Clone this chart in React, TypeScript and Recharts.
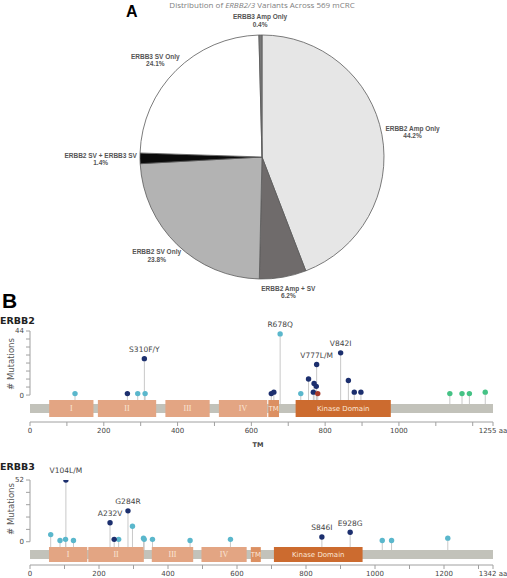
import React from "react";
import {
  PieChart,
  Pie,
  Cell,
  ComposedChart,
  XAxis,
  YAxis,
  Scatter,
  ReferenceArea,
  ReferenceLine,
  LabelList,
} from "recharts";

// ---- panel A: variant distribution ----
const pieNames = [
  "ERBB2 Amp Only",
  "ERBB2 Amp + SV",
  "ERBB2 SV Only",
  "ERBB2 SV + ERBB3 SV",
  "ERBB3 SV Only",
  "ERBB3 Amp Only",
];
const piePercents = [44.2, 6.2, 23.8, 1.4, 24.1, 0.4];
const PIE_COLORS = ["#e6e6e6", "#6f6b6b", "#b3b3b3", "#0b0b0b", "#ffffff", "#7a7a7a"];

// ---- panel B: protein domains (aa) ----
const erbb2Domains = [
  { name: "I", start: 52, end: 172 },
  { name: "II", start: 184, end: 342 },
  { name: "III", start: 367, end: 487 },
  { name: "IV", start: 512, end: 643 },
  { name: "TM", start: 646, end: 675 },
  { name: "Kinase Domain", start: 720, end: 978 },
];
const erbb3Domains = [
  { name: "I", start: 55, end: 166 },
  { name: "II", start: 169, end: 330 },
  { name: "III", start: 353, end: 473 },
  { name: "IV", start: 497, end: 628 },
  { name: "TM", start: 640, end: 669 },
  { name: "Kinase Domain", start: 707, end: 964 },
];

// ---- panel B: mutations ----
const erbb2Mutations = [
  { aa: 122, count: 1, kind: "other" },
  { aa: 264, count: 1, kind: "recurrent" },
  { aa: 292, count: 1, kind: "other" },
  { aa: 310, count: 25, kind: "recurrent", label: "S310F/Y" },
  { aa: 312, count: 1, kind: "other" },
  { aa: 654, count: 1, kind: "recurrent" },
  { aa: 661, count: 2, kind: "recurrent" },
  { aa: 678, count: 42, kind: "other", label: "R678Q" },
  { aa: 734, count: 1, kind: "other" },
  { aa: 755, count: 11, kind: "recurrent" },
  { aa: 768, count: 2, kind: "recurrent" },
  { aa: 770, count: 8, kind: "recurrent" },
  { aa: 776, count: 6, kind: "recurrent" },
  { aa: 777, count: 21, kind: "recurrent", label: "V777L/M" },
  { aa: 780, count: 1, kind: "inframe" },
  { aa: 842, count: 29, kind: "recurrent", label: "V842I" },
  { aa: 863, count: 10, kind: "recurrent" },
  { aa: 879, count: 2, kind: "recurrent" },
  { aa: 897, count: 2, kind: "recurrent" },
  { aa: 1138, count: 1, kind: "truncating" },
  { aa: 1171, count: 1, kind: "truncating" },
  { aa: 1191, count: 1, kind: "truncating" },
  { aa: 1234, count: 2, kind: "truncating" },
];
const erbb3Mutations = [
  { aa: 60, count: 6, kind: "other" },
  { aa: 87, count: 1, kind: "other" },
  { aa: 103, count: 2, kind: "other" },
  { aa: 104, count: 52, kind: "recurrent", label: "V104L/M" },
  { aa: 126, count: 1, kind: "other" },
  { aa: 232, count: 16, kind: "recurrent", label: "A232V" },
  { aa: 244, count: 2, kind: "recurrent" },
  { aa: 257, count: 2, kind: "other" },
  { aa: 284, count: 26, kind: "recurrent", label: "G284R" },
  { aa: 297, count: 13, kind: "other" },
  { aa: 329, count: 3, kind: "other" },
  { aa: 331, count: 2, kind: "other" },
  { aa: 355, count: 2, kind: "other" },
  { aa: 464, count: 1, kind: "other" },
  { aa: 581, count: 2, kind: "other" },
  { aa: 846, count: 4, kind: "recurrent", label: "S846I" },
  { aa: 928, count: 8, kind: "recurrent", label: "E928G" },
  { aa: 1021, count: 1, kind: "other" },
  { aa: 1048, count: 1, kind: "other" },
  { aa: 1211, count: 3, kind: "other" },
];

const KIND_COLORS: Record<string, string> = {
  other: "#5ab7cc",
  recurrent: "#1c2f6e",
  truncating: "#45c285",
  inframe: "#a63a2a",
};
const KINDS = ["other", "recurrent", "truncating", "inframe"];

const AXIS_FONT = "DejaVu Sans, Verdana, sans-serif";

const renderPieLabel = (p: any) => {
  const i = p.index;
  const rad = (-p.midAngle * Math.PI) / 180;
  const ux = Math.cos(rad);
  const uy = Math.sin(rad);
  const w = pieNames[i].length * 3.3;
  const x = p.cx + (p.outerRadius + 8) * ux + (w / 2) * ux;
  const y = p.cy + (p.outerRadius + 8) * uy + 7 * uy;
  return (
    <text
      x={x}
      y={y}
      textAnchor="middle"
      fill="#555"
      fontSize={6.5}
      fontWeight="bold"
      fontFamily="Liberation Sans, Arial, sans-serif"
    >
      <tspan x={x} dy={-1}>
        {pieNames[i]}
      </tspan>
      <tspan x={x} dy={7.5}>
        {piePercents[i].toFixed(1)}%
      </tspan>
    </text>
  );
};

const Dot = (props: any) => <circle cx={props.cx} cy={props.cy} r={2.7} fill={props.fill} />;

const Lollipop = ({ mutations, domains, length, maxCount, nTicks, yMin, bar, dom, height, marginTop, xHeight, marginBottom }: any) => {
  const xTicks: number[] = [];
  for (let v = 0; v < length - 40; v += 100) xTicks.push(v);
  xTicks.push(length);
  const yTicks = Array.from({ length: nTicks + 1 }, (_, i) => (maxCount * i) / nTicks);
  const stemBase = (aa: number) =>
    domains.some((d: any) => aa >= d.start && aa <= d.end) ? dom[0] : bar[0];

  return (
    <ComposedChart
      width={507}
      height={height}
      margin={{ top: marginTop, right: 14, bottom: marginBottom, left: 0 }}
    >
      <XAxis
        type="number"
        dataKey="aa"
        domain={[0, length]}
        ticks={xTicks}
        interval={0}
        tickFormatter={(v: number) =>
          v === length ? `${v} aa` : v % 200 === 0 && length - v > 80 ? String(v) : ""
        }
        stroke="#a0a0a0"
        tickSize={4}
        height={xHeight}
        tick={{ fontSize: 7, fill: "#444", fontFamily: AXIS_FONT }}
        allowDataOverflow
      />
      <YAxis
        type="number"
        domain={[yMin, maxCount]}
        ticks={yTicks}
        interval={0}
        tickFormatter={(v: number) => (v === 0 || v === maxCount ? String(v) : "")}
        axisLine={false}
        tickLine={{ stroke: "#a0a0a0" }}
        tickSize={4}
        width={30}
        tick={{ fontSize: 7, fill: "#444", fontFamily: AXIS_FONT }}
        allowDataOverflow
      />
      <ReferenceArea x1={0} x2={length} y1={bar[1]} y2={bar[0]} fill="#c2c2ba" fillOpacity={1} stroke="none" />
      {domains.map((d: any) => {
        const roman = /^[IV]+$/.test(d.name);
        const fill = d.name === "Kinase Domain" ? "#cc6b2f" : d.name === "TM" ? "#dc9062" : "#e3a583";
        return (
          <ReferenceArea
            key={d.name}
            x1={d.start}
            x2={d.end}
            y1={dom[1]}
            y2={dom[0]}
            fill={fill}
            fillOpacity={1}
            stroke="none"
            label={{
              value: d.name,
              position: "center",
              fill: "#fbe6d6",
              fontSize: roman ? 8 : 7,
              fontFamily: roman ? "Liberation Serif, serif" : AXIS_FONT,
            }}
          />
        );
      })}
      <ReferenceLine segment={[{ x: 0, y: 0 }, { x: 0, y: maxCount }]} stroke="#a0a0a0" ifOverflow="visible" />
      {mutations.map((m: any, i: number) => (
        <ReferenceLine
          key={`stem-${i}`}
          segment={[{ x: m.aa, y: stemBase(m.aa) }, { x: m.aa, y: m.count }]}
          stroke="#c8c8c8"
          strokeWidth={1}
        />
      ))}
      {KINDS.map((k) => (
        <Scatter
          key={k}
          data={mutations.filter((m: any) => m.kind === k)}
          dataKey="count"
          fill={KIND_COLORS[k]}
          shape={Dot}
          isAnimationActive={false}
        >
          <LabelList dataKey="label" position="top" offset={2} fontSize={7.5} fill="#444" fontFamily={AXIS_FONT} />
        </Scatter>
      ))}
    </ComposedChart>
  );
};

const abs = (style: React.CSSProperties): React.CSSProperties => ({ position: "absolute", whiteSpace: "nowrap", lineHeight: 1, ...style });

export default function App() {
  const pieData = pieNames.map((name, i) => ({ name, value: piePercents[i] }));
  return (
    <div style={{ position: "absolute", left: 0, top: 0, width: 507, height: 578, background: "#fff", overflow: "hidden" }}>
      <div style={abs({ left: 0, top: 0 })}>
        <PieChart width={507} height={305} margin={{ top: 0, right: 0, bottom: 0, left: 0 }}>
          <Pie
            data={pieData}
            dataKey="value"
            nameKey="name"
            cx={262}
            cy={157}
            outerRadius={122}
            startAngle={90}
            endAngle={-270}
            stroke="#5a5a5a"
            strokeWidth={0.8}
            label={renderPieLabel}
            labelLine={false}
            isAnimationActive={false}
          >
            {pieData.map((_, i) => (
              <Cell key={i} fill={PIE_COLORS[i]} />
            ))}
          </Pie>
        </PieChart>
      </div>
      <div style={abs({ left: 126, top: 4, fontSize: 16, fontWeight: "bold", fontFamily: "Liberation Sans, Arial, sans-serif" })}>A</div>
      <div style={abs({ left: 262, top: 1, transform: "translateX(-50%)", fontSize: 8, color: "#808080", fontFamily: "Open Sans, sans-serif" })}>
        Distribution of <i>ERBB2/3</i> Variants Across 569 mCRC
      </div>

      <div style={abs({ left: 2, top: 290, fontSize: 21, fontWeight: "bold", fontFamily: "Liberation Sans, Arial, sans-serif" })}>B</div>

      <div style={abs({ left: 0, top: 314 })}>
        <Lollipop
          mutations={erbb2Mutations}
          domains={erbb2Domains}
          length={1255}
          maxCount={44}
          nTicks={8}
          yMin={-18.5}
          bar={[-6.2, -12.4]}
          dom={[-3.4, -15.1]}
          height={131}
          marginTop={17}
          xHeight={20}
          marginBottom={3}
        />
      </div>
      <div style={abs({ left: 0, top: 316, fontSize: 9.5, fontWeight: "bold", color: "#222", fontFamily: AXIS_FONT })}>ERBB2</div>
      <div style={abs({ left: 11, top: 364, transform: "translate(-50%, -50%) rotate(-90deg)", fontSize: 8.5, color: "#555", fontFamily: AXIS_FONT })}>
        # Mutations
      </div>
      <div style={abs({ left: 258, top: 445, transform: "translate(-50%, -50%)", fontSize: 6.5, fontWeight: "bold", color: "#444", fontFamily: AXIS_FONT })}>TM</div>

      <div style={abs({ left: 0, top: 462 })}>
        <Lollipop
          mutations={erbb3Mutations}
          domains={erbb3Domains}
          length={1342}
          maxCount={52}
          nTicks={5}
          yMin={-19.6}
          bar={[-7.0, -14.6]}
          dom={[-4.5, -17.1]}
          height={116}
          marginTop={18}
          xHeight={13}
          marginBottom={0}
        />
      </div>
      <div style={abs({ left: 0, top: 462, fontSize: 9.5, fontWeight: "bold", color: "#222", fontFamily: AXIS_FONT })}>ERBB3</div>
      <div style={abs({ left: 11, top: 509, transform: "translate(-50%, -50%) rotate(-90deg)", fontSize: 8.5, color: "#555", fontFamily: AXIS_FONT })}>
        # Mutations
      </div>
    </div>
  );
}
